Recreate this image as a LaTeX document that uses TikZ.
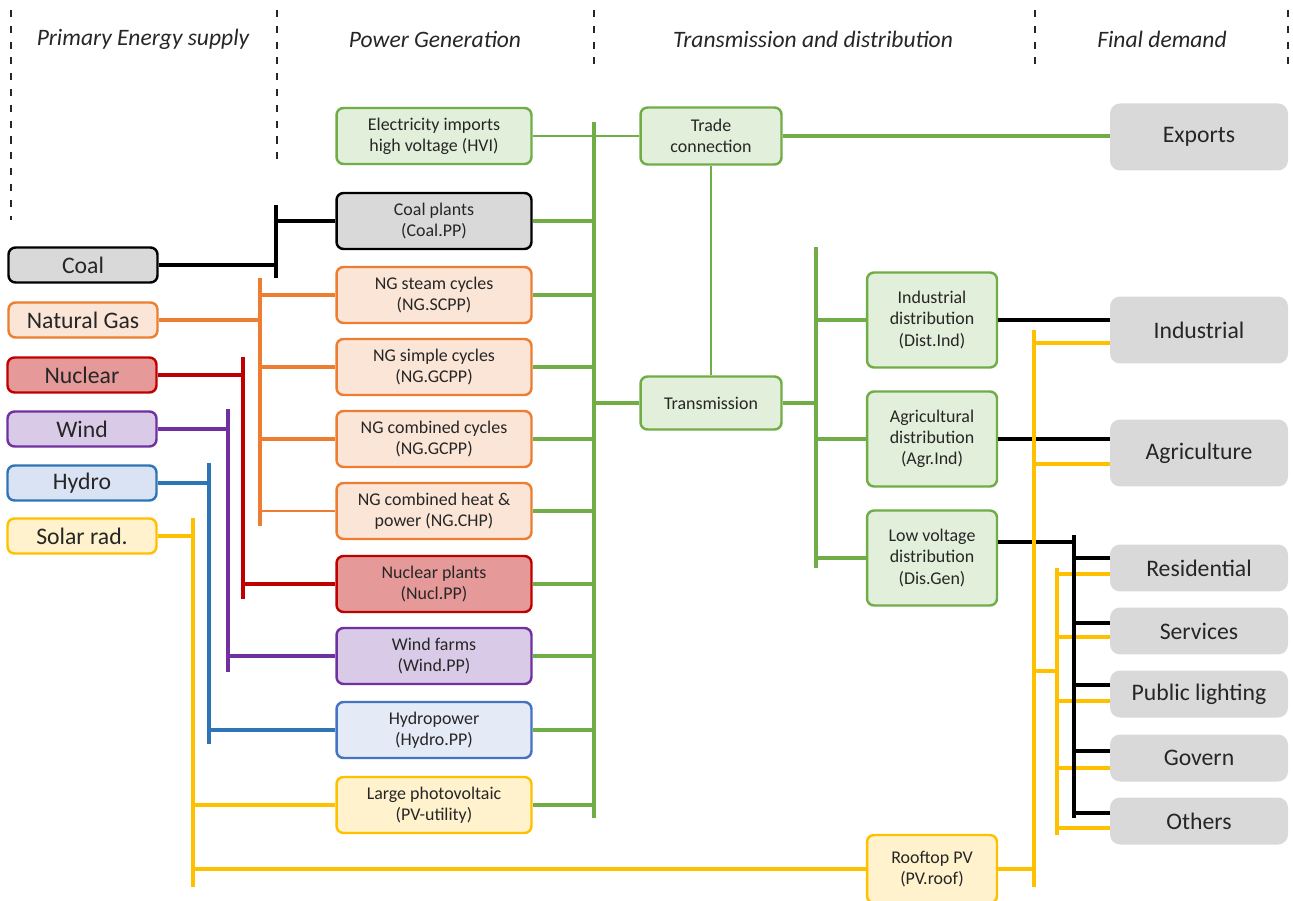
\documentclass[tikz,border=0pt]{standalone}
\usepackage{fontspec}
\setmainfont{Carlito}
\definecolor{txt}{HTML}{262626}
\definecolor{grn}{HTML}{70AD47}
\definecolor{grnf}{HTML}{E2EFDA}
\definecolor{orn}{HTML}{ED7D31}
\definecolor{ornf}{HTML}{FBE5D6}
\definecolor{redd}{HTML}{C00000}
\definecolor{redf}{HTML}{E59998}
\definecolor{pur}{HTML}{7030A0}
\definecolor{purf}{HTML}{D9CBE8}
\definecolor{blu}{HTML}{2E75B6}
\definecolor{bluf}{HTML}{DAE3F3}
\definecolor{blu2}{HTML}{4472C4}
\definecolor{bluf2}{HTML}{E4EAF6}
\definecolor{yel}{HTML}{FFC000}
\definecolor{yelf}{HTML}{FFF2CC}
\definecolor{gryf}{HTML}{D9D9D9}
\begin{document}
\begin{tikzpicture}[x=0.02cm,y=-0.02cm,
  box/.style={draw, rounded corners=0.14cm, line width=1.4pt, align=center, inner sep=0pt,
    font=\fontsize{10.2}{12}\selectfont, text=txt},
  src/.style={box, minimum width=2.98cm, minimum height=0.7cm, font=\fontsize{13.5}{15}\selectfont},
  gen/.style={box, minimum width=3.9cm, minimum height=1.12cm},
  tbox/.style={box, minimum width=2.82cm, fill=grnf, draw=grn},
  dist/.style={box, minimum width=2.6cm, minimum height=1.9cm, fill=grnf, draw=grn},
  dem/.style={fill=gryf, rounded corners=0.2cm, minimum width=3.56cm, minimum height=0.94cm,
    inner sep=0pt, font=\fontsize{13.5}{15}\selectfont, text=txt},
  bigdem/.style={dem, minimum height=1.34cm},
  hdr/.style={font=\fontsize{13.4}{15}\selectfont\itshape, text=txt, inner sep=0pt},
  ln/.style={line width=2pt},
  thin/.style={line width=1.5pt},
  dsh/.style={line width=1pt, dash pattern=on 4pt off 5pt, draw=txt}
]
\useasboundingbox (0,0) rectangle (1293,901);

% headers
\node[hdr] (h1) at (143,39) {Primary Energy supply};
\node[hdr] (h2) at (435,39) {Power Generation};
\node[hdr] (h3) at (813,39) {Transmission and distribution};
\node[hdr] (h4) at (1162,39) {Final demand};
\coordinate (d1t) at (11,10);  \coordinate (d1b) at (11,220);
\coordinate (d2t) at (277,10); \coordinate (d2b) at (277,162);
\coordinate (d3t) at (594,10); \coordinate (d3b) at (594,68);
\coordinate (d4t) at (1035,10);\coordinate (d4b) at (1035,68);
\coordinate (d5t) at (1288,10);\coordinate (d5b) at (1288,68);
\draw[dsh] (d1t) -- (d1b);
\draw[dsh] (d2t) -- (d2b);
\draw[dsh] (d3t) -- (d3b);
\draw[dsh] (d4t) -- (d4b);
\draw[dsh] (d5t) -- (d5b);

% primary sources
\node[src, fill=gryf, draw=black] (coal) at (83,265) {Coal};
\node[src, fill=ornf, draw=orn] (ng) at (83,320) {Natural Gas};
\node[src, fill=redf, draw=redd] (nuc) at (82,375) {Nuclear};
\node[src, fill=purf, draw=pur] (wind) at (82,429) {Wind};
\node[src, fill=bluf, draw=blu] (hydro) at (82,483) {Hydro};
\node[src, fill=yelf, draw=yel] (solar) at (82,536) {Solar rad.};

% generation
\node[gen, fill=grnf, draw=grn] (imp) at (434,136) {Electricity imports\\high voltage (HVI)};
\node[gen, fill=gryf, draw=black] (coalpp) at (434,221) {Coal plants\\(Coal.PP)};
\node[gen, fill=ornf, draw=orn] (ngs) at (434,295) {NG steam cycles\\(NG.SCPP)};
\node[gen, fill=ornf, draw=orn] (ngg) at (434,367) {NG simple cycles\\(NG.GCPP)};
\node[gen, fill=ornf, draw=orn] (ngc) at (434,439) {NG combined cycles\\(NG.GCPP)};
\node[gen, fill=ornf, draw=orn] (chp) at (434,511) {NG combined heat \&\\power (NG.CHP)};
\node[gen, fill=redf, draw=redd] (nucpp) at (434,584) {Nuclear plants\\(Nucl.PP)};
\node[gen, fill=purf, draw=pur] (windpp) at (434,656) {Wind farms\\(Wind.PP)};
\node[gen, fill=bluf2, draw=blu2] (hydpp) at (434,730) {Hydropower\\(Hydro.PP)};
\node[gen, fill=yelf, draw=yel] (pv) at (434,805) {Large photovoltaic\\(PV-utility)};

% transmission & distribution
\node[tbox, minimum height=1.14cm] (trade) at (711,136) {Trade\\connection};
\node[tbox, minimum height=1.06cm] (trans) at (711,403) {Transmission};
\node[dist] (ind) at (932,320) {Industrial\\distribution\\(Dist.Ind)};
\node[dist] (agr) at (932,439) {Agricultural\\distribution\\(Agr.Ind)};
\node[dist] (lv) at (932,558) {Low voltage\\distribution\\(Dis.Gen)};
\node[box, minimum width=2.6cm, minimum height=1.36cm, fill=yelf, draw=yel] (roof) at (932,869) {Rooftop PV\\(PV.roof)};

% final demand
\node[bigdem] (exp) at (1199,137) {Exports};
\node[bigdem] (indd) at (1199,330) {Industrial};
\node[bigdem] (agrd) at (1199,453) {Agriculture};
\node[dem] (res) at (1199,568) {Residential};
\node[dem] (ser) at (1199,631) {Services};
\node[dem] (pub) at (1199,694) {Public lighting};
\node[dem] (gov) at (1199,758) {Govern};
\node[dem] (oth) at (1199,821) {Others};

% bus coordinates
\coordinate (cbt) at (276,205); \coordinate (cbb) at (276,278);
\coordinate (obt) at (260,278); \coordinate (obb) at (260,526);
\coordinate (rbt) at (243,357); \coordinate (rbb) at (243,599);
\coordinate (pbt) at (228,409); \coordinate (pbb) at (228,672);
\coordinate (bbt) at (209,463); \coordinate (bbb) at (209,744);
\coordinate (ybt) at (193,518); \coordinate (ybb) at (193,887);
\coordinate (gbt) at (594,122); \coordinate (gbb) at (594,818);
\coordinate (g2t) at (816,247); \coordinate (g2b) at (816,568);
\coordinate (kbt) at (1074,535); \coordinate (kbb) at (1074,818);
\coordinate (y1t) at (1034,330); \coordinate (y1b) at (1034,887);
\coordinate (y2t) at (1057,568); \coordinate (y2b) at (1057,835);
\coordinate (yj) at (1034,671);

% coal
\draw[ln, black] (cbt) -- (cbb);
\draw[ln, black] (coal.east) -- (coal.east -| cbt);
\draw[ln, black] (coalpp.west) -- (coalpp.west -| cbt);
% natural gas
\draw[ln, orn] (obt) -- (obb);
\draw[ln, orn] (ng.east) -- (ng.east -| obt);
\draw[ln, orn] (ngs.west) -- (ngs.west -| obt);
\draw[ln, orn] (ngg.west) -- (ngg.west -| obt);
\draw[ln, orn] (ngc.west) -- (ngc.west -| obt);
\draw[thin, orn] (chp.west) -- (chp.west -| obt);
% nuclear
\draw[ln, redd] (rbt) -- (rbb);
\draw[ln, redd] (nuc.east) -- (nuc.east -| rbt);
\draw[ln, redd] (nucpp.west) -- (nucpp.west -| rbt);
% wind
\draw[ln, pur] (pbt) -- (pbb);
\draw[ln, pur] (wind.east) -- (wind.east -| pbt);
\draw[ln, pur] (windpp.west) -- (windpp.west -| pbt);
% hydro
\draw[ln, blu] (bbt) -- (bbb);
\draw[ln, blu] (hydro.east) -- (hydro.east -| bbt);
\draw[ln, blu] (hydpp.west) -- (hydpp.west -| bbt);
% solar
\draw[ln, yel] (ybt) -- (ybb);
\draw[ln, yel] (solar.east) -- (solar.east -| ybt);
\draw[ln, yel] (pv.west) -- (pv.west -| ybt);
\draw[ln, yel] (roof.west) -- (roof.west -| ybt);

% generation bus
\draw[ln, grn] (gbt) -- (gbb);
\draw[thin, grn] (imp.east) -- (trade.west);
\foreach \n in {coalpp,ngs,ngg,ngc,chp,nucpp,windpp,hydpp,pv}
  \draw[ln, grn] (\n.east) -- (\n.east -| gbt);
\draw[ln, grn] (trans.west) -- (trans.west -| gbt);
\draw[thin, grn] (trade.south) -- (trans.north);
\draw[ln, grn] (trade.east) -- (trade.east -| exp.west);
% transmission bus
\draw[ln, grn] (g2t) -- (g2b);
\draw[ln, grn] (trans.east) -- (trans.east -| g2t);
\draw[ln, grn] (ind.west) -- (ind.west -| g2t);
\draw[ln, grn] (agr.west) -- (agr.west -| g2t);
\draw[ln, grn] (lv.west) -- (lv.west -| g2t);

% distribution to demand (black)
\draw[ln, black] (ind.east) -- (ind.east -| indd.west);
\draw[ln, black] (agr.east) -- (agr.east -| agrd.west);
\draw[ln, black] ([yshift=0.32cm]lv.east) -- ([yshift=0.32cm]lv.east -| kbt);

% rooftop PV (yellow)
\draw[ln, yel] (y1t) -- (y1b);
\draw[ln, yel] ([yshift=-0.26cm]indd.west) -- ([yshift=-0.26cm]indd.west -| y1t);
\draw[ln, yel] ([yshift=-0.22cm]agrd.west) -- ([yshift=-0.22cm]agrd.west -| y1t);
\draw[ln, yel] (roof.east) -- (roof.east -| y1t);
\draw[ln, yel] (y2t) -- (y2b);
\draw[ln, yel] (yj) -- (yj -| y2t);
\draw[ln, yel] ([yshift=-0.12cm]res.west) -- ([yshift=-0.12cm]res.west -| y2t);
\draw[ln, yel] ([yshift=-0.12cm]ser.west) -- ([yshift=-0.12cm]ser.west -| y2t);
\draw[ln, yel] ([yshift=-0.14cm]pub.west) -- ([yshift=-0.14cm]pub.west -| y2t);
\draw[ln, yel] ([yshift=-0.2cm]gov.west) -- ([yshift=-0.2cm]gov.west -| y2t);
\draw[ln, yel] ([yshift=-0.14cm]oth.west) -- ([yshift=-0.14cm]oth.west -| y2t);

% low voltage bus (black)
\draw[ln, black] (kbt) -- (kbb);
\draw[ln, black] ([yshift=0.2cm]res.west) -- ([yshift=0.2cm]res.west -| kbt);
\draw[ln, black] ([yshift=0.16cm]ser.west) -- ([yshift=0.16cm]ser.west -| kbt);
\draw[ln, black] ([yshift=0.18cm]pub.west) -- ([yshift=0.18cm]pub.west -| kbt);
\draw[ln, black] ([yshift=0.14cm]gov.west) -- ([yshift=0.14cm]gov.west -| kbt);
\draw[ln, black] ([yshift=0.16cm]oth.west) -- ([yshift=0.16cm]oth.west -| kbt);
\end{tikzpicture}
\end{document}
